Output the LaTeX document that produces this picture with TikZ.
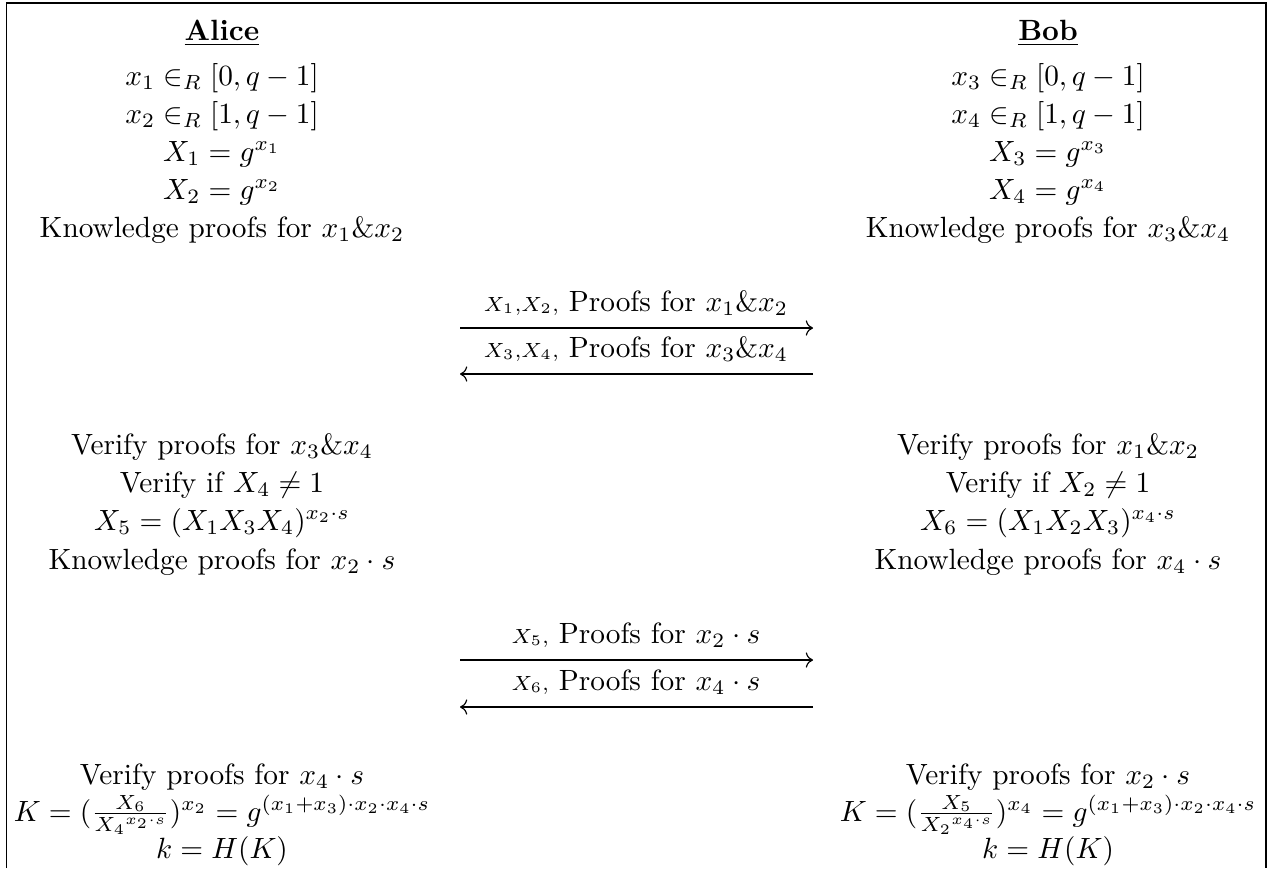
\documentclass[tikz,border=0pt]{standalone}
\usetikzlibrary{arrows.meta}
\begin{document}
\begin{tikzpicture}[x=0.3413pt,y=-0.3413pt,
  txt/.style={anchor=base, inner sep=0pt, outer sep=0pt},
  msg/.style={-{Computer Modern Rightarrow}, line width=0.4pt},
  frame/.style={line width=0.5pt}]
\useasboundingbox (0,0) rectangle (1274,868);
\draw[frame] (6.5,868) -- (6.5,3) -- (1266,3) -- (1266,868);
% Alice column
\node[txt] (aname) at (222,40) {\underline{\textbf{Alice}}};
\node[txt] (a1) at (222,85) {$x_1 \in_R [0, q-1]$};
\node[txt] (a2) at (222,123) {$x_2 \in_R [1, q-1]$};
\node[txt] (a3) at (222,161) {$X_1 = g^{x_1}$};
\node[txt] (a4) at (222,199) {$X_2 = g^{x_2}$};
\node[txt] (a5) at (222,237) {Knowledge proofs for $x_1\&x_2$};
\node[txt] (a6) at (222,454) {Verify proofs for $x_3\&x_4$};
\node[txt] (a7) at (222,492) {Verify if $X_4 \neq 1$};
\node[txt] (a8) at (222,530) {$X_5 = (X_1X_3X_4)^{x_2\cdot s}$};
\node[txt] (a9) at (222,569) {Knowledge proofs for $x_2\cdot s$};
\node[txt] (a10) at (222,784) {Verify proofs for $x_4\cdot s$};
\node[txt] (a11) at (222,821) {$K = (\frac{X_6}{{X_4}^{x_2\cdot s}})^{x_2} = g^{(x_1+x_3)\cdot x_2\cdot x_4\cdot s}$};
\node[txt] (a12) at (222,858) {$k = H(K)$};
% Bob column
\node[txt] (bname) at (1048,40) {\underline{\textbf{Bob}}};
\node[txt] (b1) at (1048,85) {$x_3 \in_R [0, q-1]$};
\node[txt] (b2) at (1048,123) {$x_4 \in_R [1, q-1]$};
\node[txt] (b3) at (1048,161) {$X_3 = g^{x_3}$};
\node[txt] (b4) at (1048,199) {$X_4 = g^{x_4}$};
\node[txt] (b5) at (1048,237) {Knowledge proofs for $x_3\&x_4$};
\node[txt] (b6) at (1048,454) {Verify proofs for $x_1\&x_2$};
\node[txt] (b7) at (1048,492) {Verify if $X_2 \neq 1$};
\node[txt] (b8) at (1048,530) {$X_6 = (X_1X_2X_3)^{x_4\cdot s}$};
\node[txt] (b9) at (1048,569) {Knowledge proofs for $x_4\cdot s$};
\node[txt] (b10) at (1048,784) {Verify proofs for $x_2\cdot s$};
\node[txt] (b11) at (1048,821) {$K = (\frac{X_5}{{X_2}^{x_4\cdot s}})^{x_4} = g^{(x_1+x_3)\cdot x_2\cdot x_4\cdot s}$};
\node[txt] (b12) at (1048,858) {$k = H(K)$};
% messages
\coordinate (m1s) at (460,328); \coordinate (m1e) at (813,328);
\coordinate (m2s) at (813,374); \coordinate (m2e) at (460,374);
\coordinate (m3s) at (460,660); \coordinate (m3e) at (813,660);
\coordinate (m4s) at (813,707); \coordinate (m4e) at (460,707);
\node[txt] (m1) at (636,311) {$\scriptstyle X_1,X_2,$ Proofs for $x_1\&x_2$};
\node[txt] (m2) at (636,357) {$\scriptstyle X_3,X_4,$ Proofs for $x_3\&x_4$};
\node[txt] (m3) at (636,643) {$\scriptstyle X_5,$ Proofs for $x_2\cdot s$};
\node[txt] (m4) at (636,690) {$\scriptstyle X_6,$ Proofs for $x_4\cdot s$};
\draw[msg] (m1s) -- (m1e);
\draw[msg] (m2s) -- (m2e);
\draw[msg] (m3s) -- (m3e);
\draw[msg] (m4s) -- (m4e);
\end{tikzpicture}
\end{document}
